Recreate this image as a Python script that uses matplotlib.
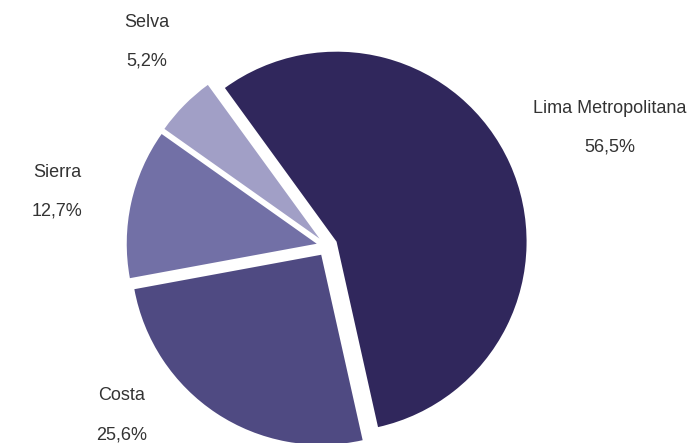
import matplotlib.pyplot as plt

# Data
regions = ["Lima Metropolitana", "Costa", "Sierra", "Selva"]
shares = [56.5, 25.6, 12.7, 5.2]
share_labels = ["56,5%", "25,6%", "12,7%", "5,2%"]
colors = ["#30275c", "#4f4a82", "#7270a6", "#a19fc6"]

# label anchors in pixel coords (x, y from top)
label_pos = [(610, 108), (122, 396), (57, 172), (147, 22)]

W, H = 696, 443
fig = plt.figure(figsize=(W / 100, H / 100), dpi=100)
ax = fig.add_axes([0, 0, 1, 1])

# explode is in data units here (pixels), not a fraction of the radius
ax.pie(
    shares,
    colors=colors,
    startangle=126,
    counterclock=False,
    radius=190,
    center=(327, H - 246),
    explode=[10.5] * len(shares),
    wedgeprops=dict(linewidth=0),
    frame=True,
)
ax.set_xlim(0, W)
ax.set_ylim(0, H)
ax.set_aspect("equal")
ax.axis("off")

font = ["Liberation Sans", "DejaVu Sans"]
for name, pct, (x, y) in zip(regions, share_labels, label_pos):
    ax.text(x, H - y, name, ha="center", va="center", fontsize=13,
            color="#333333", family=font)
    ax.text(x, H - y - 39, pct, ha="center", va="center", fontsize=13,
            color="#333333", family=font)

fig.savefig("out.png", dpi=100)
